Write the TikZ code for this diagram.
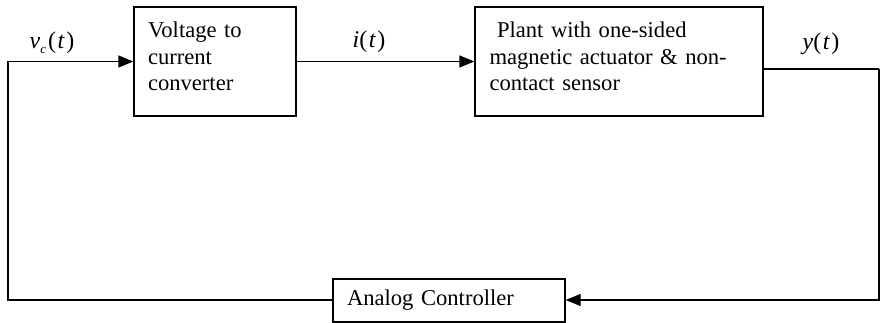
\documentclass[tikz,border=0pt]{standalone}
\usepackage{fontspec}
\setmainfont{Liberation Serif}
\usetikzlibrary{arrows.meta}
\begin{document}
\begin{tikzpicture}[x=1pt,y=-1pt,
  every node/.style={font=\fontsize{22.6}{26.5}\selectfont},
  blk/.style={draw, line width=1.3pt, inner xsep=14pt, inner ysep=0pt, align=left},
  wire/.style={line width=1.3pt},
  arr/.style={wire, -{Triangle[length=15pt,width=12pt]}},
  sig/.style={inner sep=0pt, font=\fontsize{24}{26}\selectfont}]
\useasboundingbox (0,0) rectangle (880,323);
\node[blk, minimum width=162pt, minimum height=109pt, text width=134pt] (vc) at (215,61.5)
  {Voltage to\\current\\converter\rule[-10pt]{0pt}{0pt}};
\node[blk, minimum width=288pt, minimum height=109pt, text width=259pt] (plant) at (619,61.5)
  {\ Plant with one-sided\\magnetic actuator \& non-\\contact sensor\rule[-10pt]{0pt}{0pt}};
\node[blk, minimum width=232pt, minimum height=43pt, text width=204pt] (ctrl) at (449,300.5)
  {Analog Controller};
\coordinate (lc) at (8,300);
\coordinate (rt) at (879,69);
\coordinate (rb) at (879,300);
\draw[arr] (ctrl.west |- lc) -- (lc) -- (lc |- vc.west) -- (vc.west);
\draw[arr] (vc.east) -- (plant.west);
\draw[wire] (plant.east |- rt) -- (rt);
\draw[arr] (rt) -- (rb) -- (ctrl.east |- rb);
\node[sig] (lvc) at (52,43) {\textit{v}\raisebox{-5pt}{\fontsize{13}{13}\selectfont\textit{c}}\kern2pt(\kern1.5pt\textit{t}\kern1.5pt)};
\node[sig] (li) at (369,42) {\textit{i}(\kern1.5pt\textit{t}\kern1.5pt)};
\node[sig] (ly) at (821,44) {\textit{y}(\kern1.5pt\textit{t}\kern1.5pt)};
\end{tikzpicture}
\end{document}
